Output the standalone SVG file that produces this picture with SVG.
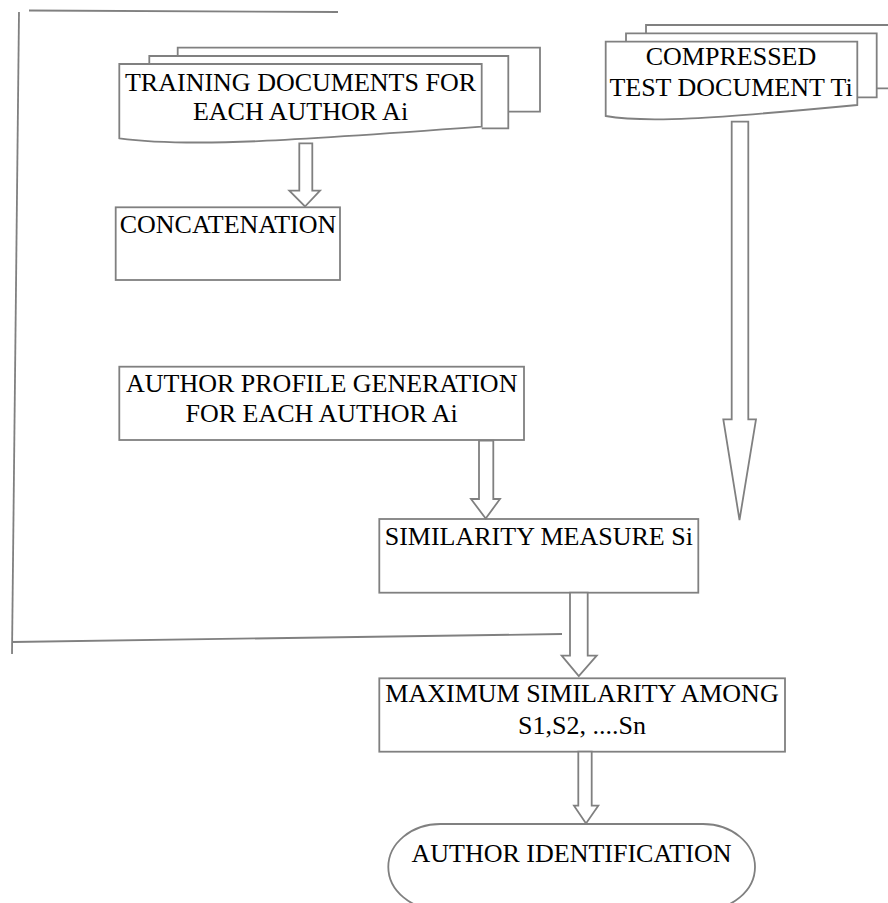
<svg xmlns="http://www.w3.org/2000/svg" width="888" height="903" viewBox="0 0 888 903">
<style>
.s{fill:none;stroke:#808080;stroke-width:1.8}
.f{fill:#fff;stroke:#808080;stroke-width:1.8}
.t{font-family:"Liberation Serif","Times New Roman",serif;font-size:26px;fill:#000;text-anchor:middle}
</style>
<rect width="888" height="903" fill="#fff"/>
<g id="frame">
<line class="s" x1="29" y1="10.5" x2="338" y2="12"/>
<line class="s" x1="19" y1="12" x2="12" y2="654"/>
<line class="s" x1="12" y1="642" x2="562" y2="634"/>
</g>
<g id="training-docs">
<path class="f" d="M177.7,56 V47.7 H540 V111.7 H508"/>
<path class="f" d="M149.3,64 V56 H508.3 V128.3 H481.7"/>
<path class="f" d="M119.3,64 H481.7 V126.7 C300,140 190,148 119.3,138.3 Z"/>
<text class="t" x="300.5" y="91">TRAINING DOCUMENTS FOR</text>
<text class="t" x="300.5" y="120">EACH AUTHOR Ai</text>
</g>
<g id="compressed-doc">
<path class="f" d="M646,33.3 V25 H895 V88.3 H876.7"/>
<path class="f" d="M626,41.7 V33.3 H876.7 V97.3 H857.3"/>
<path class="f" d="M605.7,41.7 H857.3 V105 C710,119 645,123 605.7,116 Z"/>
<text class="t" x="731" y="65">COMPRESSED</text>
<text class="t" x="731" y="96">TEST DOCUMENT Ti</text>
</g>
<g id="concatenation">
<rect class="f" x="115.7" y="207.3" width="224.3" height="72.7"/>
<text class="t" x="228" y="233.3">CONCATENATION</text>
</g>
<g id="author-profile">
<rect class="f" x="119.3" y="366.7" width="404.7" height="73.3"/>
<text class="t" x="321.7" y="391.7">AUTHOR PROFILE GENERATION</text>
<text class="t" x="321.7" y="421.7">FOR EACH AUTHOR Ai</text>
</g>
<g id="similarity">
<rect class="f" x="379.3" y="519" width="319" height="73.7"/>
<text class="t" x="538.8" y="545">SIMILARITY MEASURE Si</text>
</g>
<g id="maximum">
<rect class="f" x="379.3" y="678.3" width="405.7" height="73.4"/>
<text class="t" x="582" y="701.7">MAXIMUM SIMILARITY AMONG</text>
<text class="t" x="582" y="734">S1,S2, ....Sn</text>
</g>
<g id="identification">
<rect class="f" x="388.3" y="824" width="366.7" height="86" rx="52" ry="43"/>
<text class="t" x="571.5" y="862">AUTHOR IDENTIFICATION</text>
</g>
<g id="connectors">
<polygon class="f" points="299.3,143.3 312.3,143.3 312.3,190.7 320,190.7 305,206.5 289.3,190.7 299.3,190.7"/>
<polygon class="f" points="731.7,121.7 748.3,121.7 748.3,419.3 756,419.3 739.5,520 723.3,419.3 731.7,419.3"/>
<polygon class="f" points="479,440.7 493.3,440.7 493.3,499 500,499 485.7,518.5 471,499 479,499"/>
<polygon class="f" points="570,592.7 587.7,592.7 587.7,655.7 596.7,655.7 578.8,676 561.7,655.7 570,655.7"/>
<polygon class="f" points="578.3,751.7 591.7,751.7 591.7,805.7 598.3,805.7 586,823.5 574,805.7 578.3,805.7"/>
</g>
</svg>
